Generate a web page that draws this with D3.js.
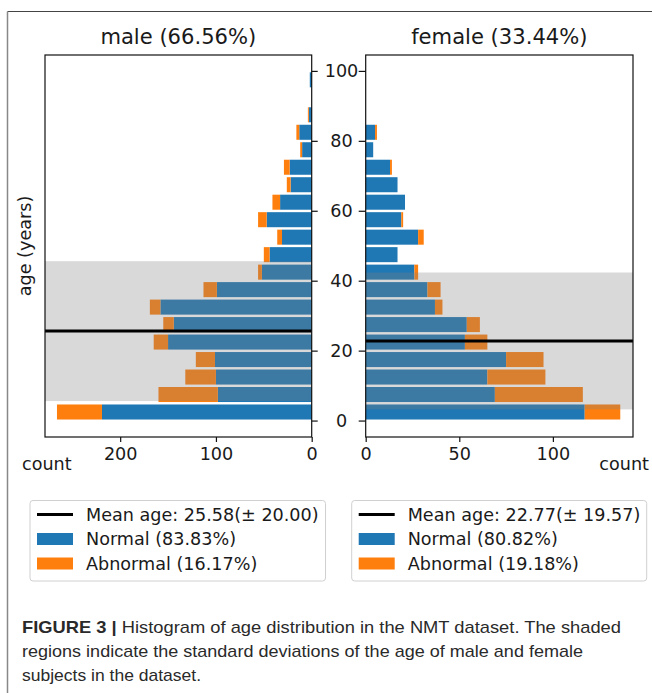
<!DOCTYPE html>
<html>
<head>
<meta charset="utf-8">
<script src="https://cdn.jsdelivr.net/npm/d3@7"></script>
<style>
	body { margin: 0; background: #fff; }
	svg { display: block; }
	text { font-family: "DejaVu Sans", sans-serif; fill: #1a1a1a; }
	.caption text { font-family: "Liberation Sans", Arial, sans-serif; fill: #2a2a2a; }
</style>
</head>
<body>
<div id="chart"></div>
<script>
'use strict';

// age bins (start of each 5 year bin)
var ageBins = [0, 5, 10, 15, 20, 25, 30, 35, 40, 45, 50, 55, 60, 65, 70, 75, 80, 85, 90, 95];

// counts per bin
var maleNormal     = [219, 98, 100, 101, 150, 144, 158, 99, 52, 44, 31, 47, 33, 22, 23, 10, 13, 3, 0, 2];
var maleAbnormal   = [47, 62, 32, 20, 15, 11, 11, 14, 4, 6, 5, 9, 8, 4, 6, 2, 3, 1, 0, 0];
var femaleNormal   = [117, 69, 65, 75, 53, 54, 37, 33, 26, 17, 28, 19, 21, 17, 13, 4, 5, 0, 0, 0];
var femaleAbnormal = [19, 47, 31, 20, 12, 7, 4, 7, 2, 0, 3, 1, 0, 0, 1, 0, 1, 0, 0, 0];

// mean / std of age
var maleStats   = [25.58, 20.00];
var femaleStats = [22.77, 19.57];

// ticks
var ageTicks         = [0, 20, 40, 60, 80, 100];
var maleCountTicks   = [0, 100, 200];
var femaleCountTicks = [0, 50, 100];

// texts
var titles = ['male (66.56%)', 'female (33.44%)'];
var maleLegend = ['Mean age: 25.58(\u00b1 20.00)', 'Normal (83.83%)', 'Abnormal (16.17%)'];
var femaleLegend = ['Mean age: 22.77(\u00b1 19.57)', 'Normal (80.82%)', 'Abnormal (19.18%)'];
var captionLines = [
	'Histogram of age distribution in the NMT dataset. The shaded',
	'regions indicate the standard deviations of the age of male and female',
	'subjects in the dataset.'
];

var blue = '#1f77b4';
var orange = '#ff7f0e';
var fs = 17.6;

var W = 652, H = 693;
var svg = d3.select('#chart').append('svg')
	.attr('width', W)
	.attr('height', H);

// outer figure frame
svg.append('line').attr('x1', 7.5).attr('x2', W).attr('y1', 11.5).attr('y2', 11.5)
	.attr('stroke', '#444').attr('stroke-width', 1.2);
svg.append('line').attr('x1', 7.5).attr('x2', 7.5).attr('y1', 11.5).attr('y2', H)
	.attr('stroke', '#888').attr('stroke-width', 1.5);

// shared age scale
var plotTop = 55, plotBottom = 437;
var y = d3.scaleLinear().domain([-4.7, 104.55]).range([plotBottom, plotTop]);

// count scales
var maleMax = d3.max(maleNormal.map(function(d, i){ return d + maleAbnormal[i]; }));
var femaleMax = d3.max(femaleNormal.map(function(d, i){ return d + femaleAbnormal[i]; }));
var xMale = d3.scaleLinear().domain([maleMax * 1.047, 0]).range([45, 311.7]);
var xFemale = d3.scaleLinear().domain([0, femaleMax * 1.05]).range([365.7, 633]);

/**
 * draw one panel
 */
var panel = function(x, normal, abnormal, stats){
	var g = svg.append('g');
	var x0 = x.range()[0], x1 = x.range()[1];

	var rows = ageBins.map(function(a, i){
		return { age: a, n: normal[i], ab: abnormal[i] };
	});

	// normal bars
	g.selectAll('rect.normal')
		.data(rows)
		.enter()
		.append('rect')
		.attr('class', 'normal')
		.attr('x', function(d){ return Math.min(x(0), x(d.n)); })
		.attr('width', function(d){ return Math.abs(x(d.n) - x(0)); })
		.attr('y', function(d){ return y(d.age + 4.6); })
		.attr('height', function(d){ return y(d.age + 0.3) - y(d.age + 4.6); })
		.attr('fill', blue);

	// abnormal bars, stacked on normal
	g.selectAll('rect.abnormal')
		.data(rows)
		.enter()
		.append('rect')
		.attr('class', 'abnormal')
		.attr('x', function(d){ return Math.min(x(d.n), x(d.n + d.ab)); })
		.attr('width', function(d){ return Math.abs(x(d.n + d.ab) - x(d.n)); })
		.attr('y', function(d){ return y(d.age + 4.6); })
		.attr('height', function(d){ return y(d.age + 0.3) - y(d.age + 4.6); })
		.attr('fill', orange);

	// std shade
	g.append('rect')
		.attr('x', Math.min(x0, x1))
		.attr('width', Math.abs(x1 - x0))
		.attr('y', y(stats[0] + stats[1]))
		.attr('height', y(stats[0] - stats[1]) - y(stats[0] + stats[1]))
		.attr('fill', 'gray')
		.attr('fill-opacity', 0.3);

	// mean line
	g.append('line')
		.attr('x1', x0).attr('x2', x1)
		.attr('y1', y(stats[0])).attr('y2', y(stats[0]))
		.attr('stroke', '#000')
		.attr('stroke-width', 3);

	// frame
	g.append('rect')
		.attr('x', Math.min(x0, x1))
		.attr('y', plotTop)
		.attr('width', Math.abs(x1 - x0))
		.attr('height', plotBottom - plotTop)
		.attr('fill', 'none')
		.attr('stroke', '#111')
		.attr('stroke-width', 1.2);

	return g;
};

panel(xMale, maleNormal, maleAbnormal, maleStats);
panel(xFemale, femaleNormal, femaleAbnormal, femaleStats);

// axes styling
var styleAxis = function(sel){
	sel.select('.domain').remove();
	sel.selectAll('.tick line').attr('stroke', '#111').attr('stroke-width', 1.2);
	sel.selectAll('.tick text')
		.attr('font-size', fs)
		.attr('font-family', 'DejaVu Sans')
		.attr('fill', '#1a1a1a');
};

svg.append('g')
	.attr('transform', 'translate(0,' + plotBottom + ')')
	.call(d3.axisBottom(xMale).tickValues(maleCountTicks).tickSize(5).tickPadding(6).tickFormat(d3.format('d')))
	.call(styleAxis);

svg.append('g')
	.attr('transform', 'translate(0,' + plotBottom + ')')
	.call(d3.axisBottom(xFemale).tickValues(femaleCountTicks).tickSize(5).tickPadding(6).tickFormat(d3.format('d')))
	.call(styleAxis);

// y axes: ticks on both inner sides, labels centered between
svg.append('g')
	.attr('transform', 'translate(' + xMale.range()[1] + ',0)')
	.call(d3.axisRight(y).tickValues(ageTicks).tickSize(6).tickFormat(''))
	.call(styleAxis);

svg.append('g')
	.attr('transform', 'translate(' + xFemale.range()[0] + ',0)')
	.call(d3.axisLeft(y).tickValues(ageTicks).tickSize(7).tickFormat(''))
	.call(styleAxis);

svg.selectAll('text.agetick')
	.data(ageTicks)
	.enter()
	.append('text')
	.attr('class', 'agetick')
	.attr('x', 341.5)
	.attr('y', function(d){ return y(d); })
	.attr('dy', '0.36em')
	.attr('text-anchor', 'middle')
	.attr('font-size', fs)
	.text(function(d){ return d; });

// titles
svg.append('text')
	.attr('x', (xMale.range()[0] + xMale.range()[1]) / 2)
	.attr('y', 44)
	.attr('text-anchor', 'middle')
	.attr('font-size', 21.1)
	.text(titles[0]);
svg.append('text')
	.attr('x', (xFemale.range()[0] + xFemale.range()[1]) / 2)
	.attr('y', 44)
	.attr('text-anchor', 'middle')
	.attr('font-size', 21.1)
	.text(titles[1]);

// axis labels
svg.append('text')
	.attr('transform', 'translate(31,' + ((plotTop + plotBottom) / 2) + ') rotate(-90)')
	.attr('text-anchor', 'middle')
	.attr('font-size', fs)
	.text('age (years)');
svg.append('text')
	.attr('x', 22).attr('y', 470)
	.attr('font-size', fs)
	.text('count');
svg.append('text')
	.attr('x', 649).attr('y', 470)
	.attr('text-anchor', 'end')
	.attr('font-size', fs)
	.text('count');

/**
 * legend box
 */
var legend = function(x0, x1, labels){
	var g = svg.append('g');
	g.append('rect')
		.attr('x', x0).attr('y', 500.5)
		.attr('width', x1 - x0).attr('height', 80.5)
		.attr('rx', 3)
		.attr('fill', '#fff')
		.attr('stroke', '#d0d0d0')
		.attr('stroke-width', 1);

	var rowY = [514.5, 539, 563.5];
	g.append('line')
		.attr('x1', x0 + 7).attr('x2', x0 + 43)
		.attr('y1', rowY[0]).attr('y2', rowY[0])
		.attr('stroke', '#000').attr('stroke-width', 3);
	g.append('rect')
		.attr('x', x0 + 7).attr('width', 36)
		.attr('y', rowY[1] - 6).attr('height', 12)
		.attr('fill', blue);
	g.append('rect')
		.attr('x', x0 + 7).attr('width', 36)
		.attr('y', rowY[2] - 6).attr('height', 12)
		.attr('fill', orange);

	g.selectAll('text')
		.data(labels)
		.enter()
		.append('text')
		.attr('x', x0 + 56)
		.attr('y', function(d, i){ return rowY[i]; })
		.attr('dy', '0.36em')
		.attr('font-size', fs)
		.text(function(d){ return d; });
};

legend(30, 325.5, maleLegend);
legend(351.7, 646.7, femaleLegend);

// caption
var cap = svg.append('g').attr('class', 'caption');
var capEnds = [621, 583, 201];
cap.selectAll('text')
	.data(captionLines)
	.enter()
	.append('text')
	.attr('x', 22)
	.attr('y', function(d, i){ return 633 + i * 24; })
	.attr('font-size', 17)
	.attr('textLength', function(d, i){ return capEnds[i] - 22; })
	.attr('lengthAdjust', 'spacingAndGlyphs')
	.each(function(d, i){
		var t = d3.select(this);
		if (i === 0){
			t.append('tspan').attr('font-weight', 'bold').text('FIGURE 3 | ');
		}
		t.append('tspan').text(d);
	});
</script>
</body>
</html>
